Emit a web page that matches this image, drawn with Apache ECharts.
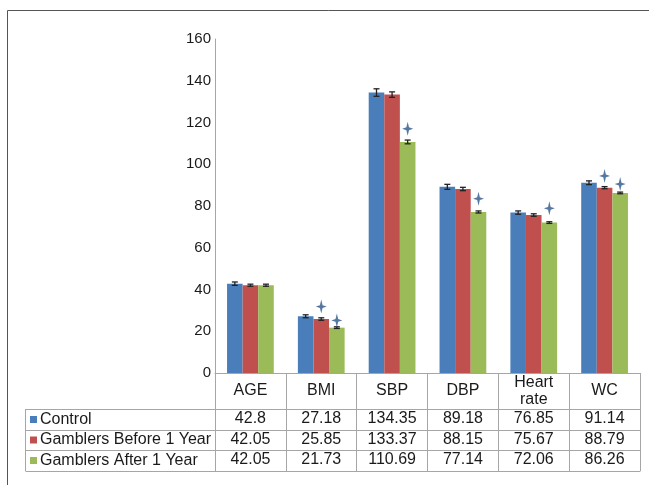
<!DOCTYPE html>
<html>
<head>
<meta charset="UTF-8">
<title></title>
<script src="https://cdn.jsdelivr.net/npm/echarts@6/dist/echarts.min.js"></script>
</head>
<body style="margin:0;background:#fff">
<div id="container" style="width:649px;height:485px"></div>
<script type="text/javascript">
var categories = ['AGE', 'BMI', 'SBP', 'DBP', 'Heart\nrate', 'WC'];
var seriesNames = ['Control', 'Gamblers Before 1 Year', 'Gamblers After 1 Year'];
var control = [42.8, 27.18, 134.35, 89.18, 76.85, 91.14];
var before = [42.05, 25.85, 133.37, 88.15, 75.67, 88.79];
var after = [42.05, 21.73, 110.69, 77.14, 72.06, 86.26];
var controlErr = [0.8, 0.7, 1.8, 1.2, 0.8, 0.9];
var beforeErr = [0.5, 0.6, 1.3, 0.8, 0.6, 0.5];
var afterErr = [0.5, 0.4, 0.9, 0.5, 0.4, 0.4];
var starsBefore = [null, 31.8, null, null, null, 94.4];
var starsAfter = [null, 25.2, 117, 83.5, 78.9, 90.5];
var yTicks = [0, 160, 20];

var colors = ['#4a7ebb', '#c0504d', '#9bbb59'];
var gridC = '#a6a6a6';
var txt = '#1a1a1a';
var font = 'Liberation Sans, Arial, sans-serif';

var dom = document.getElementById('container');
var myChart = echarts.init(dom);

var starPath = 'path://M5,0 L6.2,4.8 L10,6 L6.2,7.2 L5,12 L3.8,7.2 L0,6 L3.8,4.8 Z';

function errSeries(vals, errs, off) {
    var data = vals.map(function (v, i) { return [i, v, errs[i]]; });
    return {
        type: 'custom',
        z: 5,
        data: data,
        renderItem: function (params, api) {
            var i = api.value(0), v = api.value(1), e = api.value(2);
            var top = api.coord([i, v + e]);
            var bot = api.coord([i, v - e]);
            var band = api.size([1, 0])[0];
            var x = top[0] + off * band * 0.66 / 3;
            var st = { stroke: '#222', lineWidth: 1.3 };
            return {
                type: 'group',
                children: [
                    { type: 'line', shape: { x1: x, y1: top[1], x2: x, y2: bot[1] }, style: st },
                    { type: 'line', shape: { x1: x - 3, y1: top[1], x2: x + 3, y2: top[1] }, style: st },
                    { type: 'line', shape: { x1: x - 3, y1: bot[1], x2: x + 3, y2: bot[1] }, style: st }
                ]
            };
        }
    };
}

function starSeries(vals, off) {
    var data = [];
    vals.forEach(function (v, i) { if (v != null) data.push([i, v]); });
    return {
        type: 'scatter',
        data: data,
        symbol: starPath,
        symbolSize: [11, 14],
        symbolOffset: [off * 15.6, 0],
        itemStyle: { color: '#2a5688' },
        z: 6
    };
}

var tableRows = [control, before, after];
var rowTops = [409, 430, 450, 471];
var axisY = 373;

var xAxes = [{
    type: 'category',
    data: categories,
    axisLine: { lineStyle: { color: gridC, width: 1 } },
    axisTick: { show: true, length: rowTops[3] - axisY, interval: 0, lineStyle: { color: gridC } },
    axisLabel: { margin: 18, verticalAlign: 'middle', fontSize: 16, lineHeight: 16.5, color: txt, fontFamily: font, interval: 0 }
}];
tableRows.forEach(function (row, r) {
    xAxes.push({
        type: 'category',
        position: 'bottom',
        offset: rowTops[r] - axisY,
        data: row.map(function (v) { return String(v); }),
        axisLine: { lineStyle: { color: gridC } },
        axisTick: { show: false },
        axisLabel: { margin: 10, verticalAlign: 'middle', fontSize: 16, color: txt, fontFamily: font, interval: 0 }
    });
});
xAxes.push({
    type: 'category',
    position: 'bottom',
    offset: rowTops[3] - axisY,
    data: categories,
    axisLine: { lineStyle: { color: gridC } },
    axisTick: { show: false },
    axisLabel: { show: false }
});

var graphics = [
    { type: 'line', shape: { x1: 7.5, y1: 10.5, x2: 649, y2: 10.5 }, style: { stroke: '#555', lineWidth: 1 } },
    { type: 'line', shape: { x1: 7.5, y1: 10.5, x2: 7.5, y2: 485 }, style: { stroke: '#555', lineWidth: 1 } },
    { type: 'line', shape: { x1: 25.5, y1: rowTops[0], x2: 25.5, y2: rowTops[3] }, style: { stroke: gridC, lineWidth: 1 } }
];
rowTops.forEach(function (y) {
    graphics.push({ type: 'line', shape: { x1: 25.5, y1: y + 0.5, x2: 215, y2: y + 0.5 }, style: { stroke: gridC, lineWidth: 1 } });
});
seriesNames.forEach(function (name, r) {
    var cy = (rowTops[r] + rowTops[r + 1]) / 2;
    graphics.push({ type: 'rect', shape: { x: 30, y: cy - 3.5, width: 7, height: 7 }, style: { fill: colors[r] } });
    graphics.push({ type: 'text', x: 40, y: cy, style: { text: name, fontSize: 16, fill: txt, fontFamily: font, verticalAlign: 'middle' } });
});

var series = [
    { name: seriesNames[0], type: 'bar', data: control, barGap: 0, barCategoryGap: '34%', itemStyle: { color: colors[0] } },
    { name: seriesNames[1], type: 'bar', data: before, itemStyle: { color: colors[1] } },
    { name: seriesNames[2], type: 'bar', data: after, itemStyle: { color: colors[2] } },
    errSeries(control, controlErr, -1),
    errSeries(before, beforeErr, 0),
    errSeries(after, afterErr, 1),
    starSeries(starsBefore, 0),
    starSeries(starsAfter, 1)
];

var option = {
    animation: false,
    grid: { left: 215, right: 9, top: 39, bottom: 485 - axisY },
    xAxis: xAxes,
    yAxis: {
        type: 'value',
        min: yTicks[0],
        max: yTicks[1],
        interval: yTicks[2],
        axisLine: { show: true, lineStyle: { color: gridC } },
        axisTick: { show: false },
        splitLine: { show: false },
        axisLabel: { fontSize: 15, color: txt, fontFamily: font, margin: 4 }
    },
    graphic: graphics,
    series: series
};

myChart.setOption(option);
</script>
</body>
</html>
